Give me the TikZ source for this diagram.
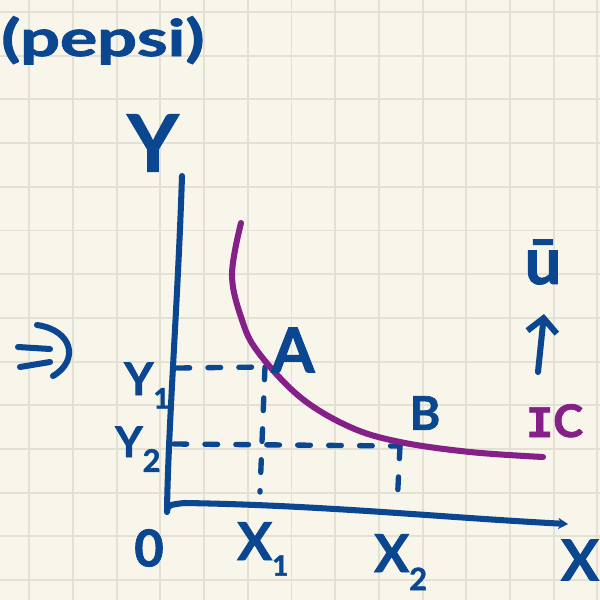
\documentclass[tikz,border=0pt]{standalone}
\usepackage{fontspec}
\setmainfont{Lato}[BoldFeatures={FakeBold=1.6}]
\newfontfamily\monofam{Liberation Mono}[BoldFeatures={FakeBold=1.6}]
\usetikzlibrary{arrows.meta}
\definecolor{paper}{HTML}{F8F6EA}
\definecolor{gridc}{HTML}{E3E1D3}
\definecolor{ink}{HTML}{0B4690}
\definecolor{icpurple}{HTML}{862089}
\begin{document}
\begin{tikzpicture}[x=0.025cm,y=-0.025cm,
  inkline/.style={draw=ink,line width=4.3pt,line cap=round,line join=round},
  icline/.style={draw=icpurple,line width=4.3pt,line cap=round,line join=round},
  dashln/.style={draw=ink,line width=3.8pt,line cap=round,dash pattern=on 9pt off 13pt},
  lbl/.style={text=ink,inner sep=0pt,font=\fontsize{#1}{#1}\selectfont\bfseries},
  gridln/.style={draw=gridc,line width=1.4pt}]
\useasboundingbox (0,0) rectangle (600,600);
\clip (0,0) rectangle (600,600);
\fill[paper] (0,0) rectangle (600,600);
\foreach \k in {0,...,13}{
  \draw[gridln] ({29.3+43.7*\k},0) -- ++(0,600);
  \draw[gridln] (0,{12+43.7*\k}) -- ++(600,0);
}
% title
\node[lbl=36,anchor=base west] (title) at (1,56) {\scalebox{1.38}[1]{(pepsi)}};
% implication mark
\coordinate (ia) at (18,347);
\coordinate (ib) at (50,349);
\coordinate (ic) at (20,367);
\coordinate (id) at (50,362);
\coordinate (ie) at (37,325);
\coordinate (iff) at (53,376);
\draw[inkline] (ia) -- (ib);
\draw[inkline] (ic) -- (id);
\draw[inkline] (ie) .. controls (72,330) and (80,360) .. (iff);
% axes
\coordinate (ytop) at (182,176);
\coordinate (orig) at (167,512);
\coordinate (xstart) at (184,503);
\coordinate (xend) at (568,524);
\draw[inkline] (ytop) .. controls (178,300) and (168,430) .. (orig)
   .. controls (168,505) .. (xstart);
\draw[inkline,-{Stealth[length=7pt,width=8pt]}] (xstart) .. controls (320,505) and (450,518) .. (xend);
% points
\coordinate (A) at (265,367);
\coordinate (B) at (400,446);
\coordinate (y1a) at (177,368);
\coordinate (y2a) at (174,444);
\coordinate (x1a) at (260,492);
\coordinate (x2a) at (397,507);
\draw[dashln] (y1a) -- (A);
\draw[dashln] (A) -- (x1a);
\draw[dashln] (y2a) -- (B);
\draw[dashln] (B) -- (x2a);
% indifference curve
\draw[icline] plot[smooth,tension=0.6] coordinates {(241,223) (232,275) (242,320) (258,352) (300,397) (350,427) (400,442) (470,452) (543,457)};
% labels
\node[lbl=56] (ylab) at (153,143) {Y};
\node[lbl=40] (xlab) at (580,560) {X};
\node[lbl=44] (alab) at (293,350) {A};
\node[lbl=33] (blab) at (425,413) {B};
\node[lbl=36] (olab) at (149,548) {0};
\node[lbl=37,anchor=base west] (x1lab) at (237,560) {X\raisebox{-0.3em}{\fontsize{20}{20}\selectfont 1}};
\node[lbl=37,anchor=base west] (x2lab) at (374,572) {X\raisebox{-0.35em}{\fontsize{22}{22}\selectfont 2}};
\node[lbl=32,anchor=base west] (y1lab) at (124,395) {Y\raisebox{-0.3em}{\fontsize{20}{20}\selectfont 1}};
\node[lbl=30,anchor=base west] (y2lab) at (115,457) {Y\raisebox{-0.35em}{\fontsize{22}{22}\selectfont 2}};
\node[lbl=32,text=icpurple,anchor=base west] (iclab) at (526,437) {{\monofam I}C};
\node[lbl=46] (ubar) at (543,262) {ū};
% arrow up
\coordinate (arrb) at (538,372);
\coordinate (arrt) at (544,314);
\draw[inkline,-{Straight Barb[length=10pt,width=21pt]}] (arrb) -- (arrt);
\end{tikzpicture}
\end{document}
